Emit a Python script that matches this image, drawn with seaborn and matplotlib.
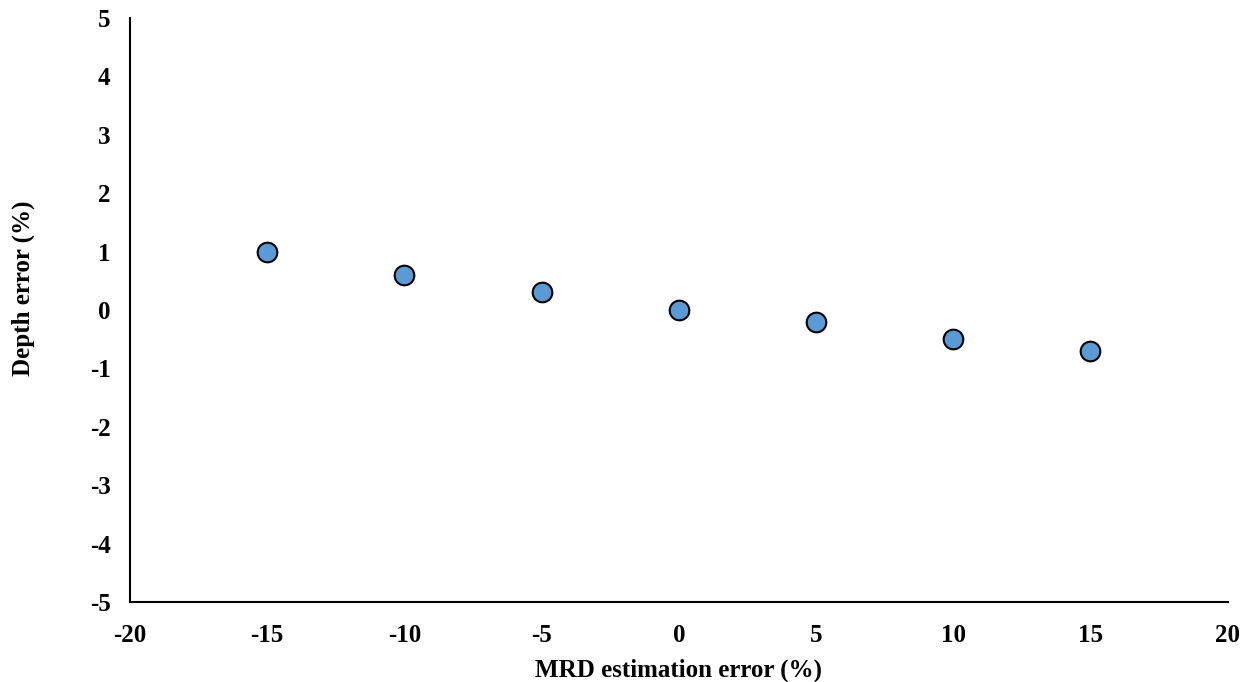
import matplotlib
matplotlib.use("Agg")
import matplotlib.pyplot as plt
import seaborn as sns
import pandas as pd

# data
mrd_error = [-15, -10, -5, 0, 5, 10, 15]
depth_error = [1.0, 0.6, 0.3, 0.0, -0.2, -0.5, -0.7]
x_ticks = [-20, -15, -10, -5, 0, 5, 10, 15, 20]
y_ticks = [-5, -4, -3, -2, -1, 0, 1, 2, 3, 4, 5]

df = pd.DataFrame({"MRD": mrd_error, "Depth": depth_error})

sns.set_style("white")
plt.rcParams["font.family"] = ["Liberation Serif", "DejaVu Serif"]
plt.rcParams["font.weight"] = "bold"
plt.rcParams["axes.unicode_minus"] = False
plt.rcParams["text.color"] = "black"
plt.rcParams["axes.labelcolor"] = "black"
plt.rcParams["xtick.color"] = "black"
plt.rcParams["ytick.color"] = "black"

fig = plt.figure(figsize=(12.5, 6.82), dpi=100)
ax = fig.add_axes([0.104, 0.117, 0.878, 0.857])

sns.scatterplot(data=df, x="MRD", y="Depth", ax=ax, s=200,
                color="#5B9BD5", edgecolor="black", linewidth=1.5, zorder=3)

ax.set_xlim(-20, 20)
ax.set_ylim(-5, 5)
ax.set_xticks(x_ticks)
ax.set_yticks(y_ticks)
ax.tick_params(axis="x", length=0, labelsize=18, pad=16)
ax.tick_params(axis="y", length=0, labelsize=18, pad=14)
for lab in ax.get_xticklabels() + ax.get_yticklabels():
    lab.set_fontweight("bold")

ax.set_xlabel("MRD estimation error (%)", fontsize=18, fontweight="bold")
ax.set_ylabel("Depth error (%)", fontsize=18, fontweight="bold")
ax.xaxis.set_label_coords(0.5, -0.097)
ax.yaxis.set_label_coords(-0.087, 0.5375)

for side in ["top", "right"]:
    ax.spines[side].set_visible(False)
for side in ["left", "bottom"]:
    ax.spines[side].set_color("black")
    ax.spines[side].set_linewidth(1.5)

fig.savefig("out.png", dpi=100)
